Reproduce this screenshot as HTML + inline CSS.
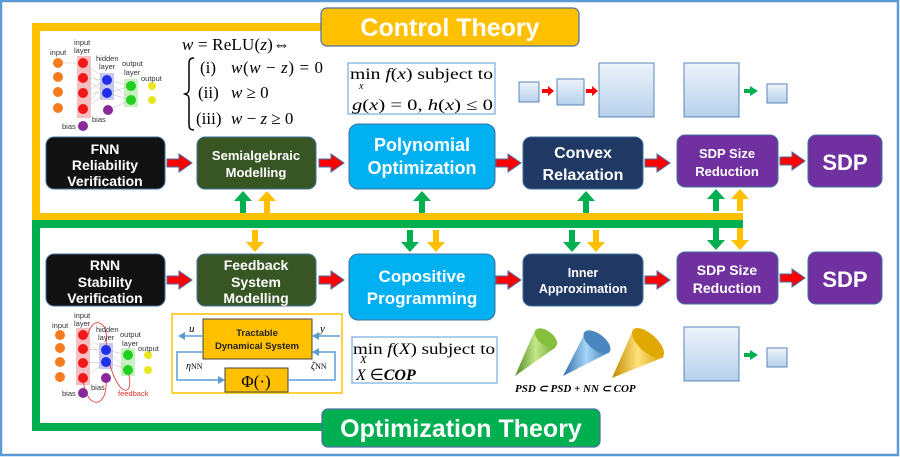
<!DOCTYPE html>
<html><head><meta charset="utf-8"><style>
html,body{margin:0;padding:0;background:#fff}
svg{display:block}
text{font-family:"Liberation Sans",sans-serif}
.s{font-family:"Liberation Serif",serif}
</style></head><body>
<svg width="900" height="457" viewBox="0 0 900 457" xmlns="http://www.w3.org/2000/svg">
<defs>
<linearGradient id="sq" x1="0" y1="0" x2="0" y2="1"><stop offset="0" stop-color="#eef4fb"/><stop offset="1" stop-color="#b6d0ea"/></linearGradient>
<linearGradient id="cg" x1="0" y1="0" x2="1" y2="0"><stop offset="0" stop-color="#4e8a1e"/><stop offset="0.5" stop-color="#c6e68a"/><stop offset="1" stop-color="#6ea632"/></linearGradient>
<linearGradient id="cb" x1="0" y1="0" x2="1" y2="0"><stop offset="0" stop-color="#2e6ea6"/><stop offset="0.5" stop-color="#a8d4f6"/><stop offset="1" stop-color="#3a7ab6"/></linearGradient>
<linearGradient id="cy" x1="0" y1="0" x2="1" y2="0"><stop offset="0" stop-color="#c28a00"/><stop offset="0.5" stop-color="#ffe27a"/><stop offset="1" stop-color="#d49a00"/></linearGradient>
<g id="ra"><path d="M0,-4 L12,-4 L12,-9 L25,0 L12,9 L12,4 L0,4 Z" fill="#f00" stroke="#4a6fa5" stroke-width="1"/></g>
<g id="ga"><path d="M-3,22 L-3,10 L-9,10 L0,0 L9,10 L3,10 L3,22 Z" fill="#00b050"/></g>
<g id="ya"><path d="M-3,22 L-3,10 L-9,10 L0,0 L9,10 L3,10 L3,22 Z" fill="#ffc000"/></g>
</defs>
<rect x="1" y="1" width="897" height="454" fill="#fff" stroke="#5b9bd5" stroke-width="2.5"/>

<path d="M36,216 L36,27 L322,27" fill="none" stroke="#ffc000" stroke-width="8"/>
<rect x="32" y="213" width="711" height="7" fill="#ffc000"/>
<path d="M36,220 L36,427 L324,427" fill="none" stroke="#00b050" stroke-width="8"/>
<rect x="32" y="220" width="711" height="8" fill="#00b050"/>

<rect x="321" y="8" width="258" height="38" rx="6" fill="#ffc000" stroke="#4a6fa5" stroke-width="1.2"/>
<text x="450" y="36" font-size="25" font-weight="bold" fill="#fff" text-anchor="middle">Control Theory</text>
<rect x="322" y="409" width="278" height="38" rx="6" fill="#00b050" stroke="#4a6fa5" stroke-width="1.2"/>
<text x="461" y="437" font-size="25" font-weight="bold" fill="#fff" text-anchor="middle">Optimization Theory</text>

<use href="#ga" x="243" y="191"/><use href="#ya" x="267" y="191"/>
<use href="#ga" x="422" y="191"/>
<use href="#ga" x="586" y="191"/>
<use href="#ga" x="716" y="189"/><use href="#ya" x="740" y="189"/>
<g transform="translate(255,252) scale(1,-1)"><use href="#ya"/></g>
<g transform="translate(410,252) scale(1,-1)"><use href="#ga"/></g>
<g transform="translate(436,252) scale(1,-1)"><use href="#ya"/></g>
<g transform="translate(572,252) scale(1,-1)"><use href="#ga"/></g>
<g transform="translate(596,252) scale(1,-1)"><use href="#ya"/></g>
<g transform="translate(716,250) scale(1,-1)"><use href="#ga"/></g>
<g transform="translate(740,250) scale(1,-1)"><use href="#ya"/></g>

<rect x="46" y="137" width="119" height="52" rx="8" fill="#111" stroke="#41719c"/>
<text x="105" y="154" font-size="14" font-weight="bold" fill="#fff" text-anchor="middle">FNN</text>
<text x="105" y="170" font-size="14" font-weight="bold" fill="#fff" text-anchor="middle">Reliability</text>
<text x="105" y="186" font-size="14" font-weight="bold" fill="#fff" text-anchor="middle">Verification</text>
<rect x="197" y="137" width="119" height="52" rx="8" fill="#375623" stroke="#41719c"/>
<text x="256" y="160" font-size="13" font-weight="bold" fill="#fff" text-anchor="middle">Semialgebraic</text>
<text x="256" y="177" font-size="13" font-weight="bold" fill="#fff" text-anchor="middle">Modelling</text>
<rect x="349" y="124" width="146" height="65" rx="9" fill="#00b0f0" stroke="#41719c"/>
<text x="422" y="151" font-size="18" font-weight="bold" fill="#fff" text-anchor="middle">Polynomial</text>
<text x="422" y="174" font-size="18" font-weight="bold" fill="#fff" text-anchor="middle">Optimization</text>
<rect x="523" y="137" width="120" height="52" rx="8" fill="#1f3864" stroke="#41719c"/>
<text x="583" y="158" font-size="16" font-weight="bold" fill="#fff" text-anchor="middle">Convex</text>
<text x="583" y="180" font-size="16" font-weight="bold" fill="#fff" text-anchor="middle">Relaxation</text>
<rect x="677" y="135" width="101" height="52" rx="8" fill="#7030a0" stroke="#41719c"/>
<text x="727" y="158" font-size="13" font-weight="bold" fill="#fff" text-anchor="middle">SDP Size</text>
<text x="727" y="176" font-size="13" font-weight="bold" fill="#fff" text-anchor="middle">Reduction</text>
<rect x="808" y="135" width="74" height="52" rx="8" fill="#7030a0" stroke="#41719c"/>
<text x="845" y="170" font-size="22" font-weight="bold" fill="#fff" text-anchor="middle">SDP</text>
<use href="#ra" x="167" y="163"/><use href="#ra" x="319" y="163"/><use href="#ra" x="496" y="163"/><use href="#ra" x="645" y="163"/><use href="#ra" x="780" y="161"/>

<rect x="46" y="254" width="119" height="52" rx="8" fill="#111" stroke="#41719c"/>
<text x="105" y="270" font-size="14" font-weight="bold" fill="#fff" text-anchor="middle">RNN</text>
<text x="105" y="287" font-size="14" font-weight="bold" fill="#fff" text-anchor="middle">Stability</text>
<text x="105" y="303" font-size="14" font-weight="bold" fill="#fff" text-anchor="middle">Verification</text>
<rect x="197" y="254" width="119" height="52" rx="8" fill="#375623" stroke="#41719c"/>
<text x="256" y="270" font-size="14" font-weight="bold" fill="#fff" text-anchor="middle">Feedback</text>
<text x="256" y="287" font-size="14" font-weight="bold" fill="#fff" text-anchor="middle">System</text>
<text x="256" y="303" font-size="14" font-weight="bold" fill="#fff" text-anchor="middle">Modelling</text>
<rect x="349" y="254" width="146" height="66" rx="9" fill="#00b0f0" stroke="#41719c"/>
<text x="422" y="282" font-size="17" font-weight="bold" fill="#fff" text-anchor="middle">Copositive</text>
<text x="422" y="304" font-size="17" font-weight="bold" fill="#fff" text-anchor="middle">Programming</text>
<rect x="523" y="254" width="120" height="52" rx="8" fill="#1f3864" stroke="#41719c"/>
<text x="583" y="277" font-size="12.5" font-weight="bold" fill="#fff" text-anchor="middle">Inner</text>
<text x="583" y="293" font-size="12.5" font-weight="bold" fill="#fff" text-anchor="middle">Approximation</text>
<rect x="677" y="252" width="101" height="52" rx="8" fill="#7030a0" stroke="#41719c"/>
<text x="727" y="275" font-size="14" font-weight="bold" fill="#fff" text-anchor="middle">SDP Size</text>
<text x="727" y="293" font-size="14" font-weight="bold" fill="#fff" text-anchor="middle">Reduction</text>
<rect x="808" y="252" width="74" height="52" rx="8" fill="#7030a0" stroke="#41719c"/>
<text x="845" y="287" font-size="22" font-weight="bold" fill="#fff" text-anchor="middle">SDP</text>
<use href="#ra" x="167" y="280"/><use href="#ra" x="319" y="280"/><use href="#ra" x="496" y="280"/><use href="#ra" x="645" y="280"/><use href="#ra" x="780" y="278"/>

<!-- ReLU formula -->
<text x="182" y="50" class="s" font-size="17" textLength="108"><tspan font-style="italic">w</tspan> = ReLU(<tspan font-style="italic">z</tspan>)⇔</text>
<path d="M194,58 C188,58 189,62 189,70 L189,88 C189,92 188,93 185,94 C188,95 189,96 189,100 L189,118 C189,126 188,130 194,130" fill="none" stroke="#000" stroke-width="1.5"/>
<text x="200" y="73" class="s" font-size="17">(i)</text>
<text x="231" y="73" class="s" font-size="17" textLength="92"><tspan font-style="italic">w</tspan>(<tspan font-style="italic">w</tspan> − <tspan font-style="italic">z</tspan>) = 0</text>
<text x="198" y="98" class="s" font-size="17">(ii)</text>
<text x="231" y="98" class="s" font-size="17"><tspan font-style="italic">w</tspan> ≥ 0</text>
<text x="196" y="124" class="s" font-size="17">(iii)</text>
<text x="231" y="124" class="s" font-size="17"><tspan font-style="italic">w</tspan> − <tspan font-style="italic">z</tspan> ≥ 0</text>

<rect x="348" y="63" width="147" height="51" fill="#fff" stroke="#5b9bd5" stroke-width="1"/>
<text x="350" y="79" class="s" font-size="16" textLength="143" lengthAdjust="spacingAndGlyphs">min <tspan font-style="italic">f</tspan>(<tspan font-style="italic">x</tspan>) subject to</text>
<text x="359" y="89" class="s" font-size="10" font-style="italic">x</text>
<text x="352" y="110" class="s" font-size="16" textLength="141" lengthAdjust="spacingAndGlyphs"><tspan font-style="italic">g</tspan>(<tspan font-style="italic">x</tspan>) = 0,  <tspan font-style="italic">h</tspan>(<tspan font-style="italic">x</tspan>) ≤ 0</text>
<rect x="352" y="337" width="145" height="46" fill="#fff" stroke="#5b9bd5" stroke-width="1"/>
<text x="353" y="354" class="s" font-size="16" textLength="142" lengthAdjust="spacingAndGlyphs">min <tspan font-style="italic">f</tspan>(<tspan font-style="italic">X</tspan>) subject to</text>
<text x="360" y="363" class="s" font-size="11" font-style="italic">X</text>
<text x="356" y="380" class="s" font-size="16"><tspan font-style="italic">X</tspan> ∈<tspan font-style="italic" font-weight="bold">COP</tspan></text>

<rect x="519" y="82" width="20" height="20" fill="url(#sq)" stroke="#5b86b8"/>
<path d="M542,89 L548,89 L548,86 L554,91 L548,96 L548,93 L542,93Z" fill="#f00"/>
<rect x="557" y="79" width="27" height="26" fill="url(#sq)" stroke="#5b86b8"/>
<path d="M586,89 L592,89 L592,86 L598,91 L592,96 L592,93 L586,93Z" fill="#f00"/>
<rect x="599" y="63" width="55" height="54" fill="url(#sq)" stroke="#5b86b8"/>
<rect x="684" y="63" width="55" height="54" fill="url(#sq)" stroke="#5b86b8"/>
<path d="M744,89 L750,89 L750,86 L758,91 L750,96 L750,93 L744,93Z" fill="#00b050"/>
<rect x="767" y="84" width="20" height="19" fill="url(#sq)" stroke="#5b86b8"/>
<rect x="684" y="327" width="55" height="54" fill="url(#sq)" stroke="#5b86b8"/>
<path d="M744,353 L750,353 L750,350 L758,355 L750,360 L750,357 L744,357Z" fill="#00b050"/>
<rect x="767" y="348" width="20" height="19" fill="url(#sq)" stroke="#5b86b8"/>

<path d="M515,376 L535,330 L556,347 Z" fill="url(#cg)"/><ellipse cx="546" cy="338" rx="13" ry="7" transform="rotate(38 546 338)" fill="#86bf3e"/>
<path d="M563,376 L585,333 L610,352 Z" fill="url(#cb)"/><ellipse cx="597" cy="342" rx="16" ry="8" transform="rotate(38 597 342)" fill="#4a86c0"/>
<path d="M612,378 L633,330 L664,357 Z" fill="url(#cy)"/><ellipse cx="648" cy="343" rx="20" ry="9" transform="rotate(42 648 343)" fill="#e0a800"/>
<text x="515" y="392" class="s" font-size="11" font-style="italic" font-weight="bold">PSD ⊂ PSD + NN ⊂ COP</text>

<rect x="172" y="314" width="170" height="79" fill="#fff" stroke="#ffc000" stroke-width="1.5"/>
<rect x="203" y="319" width="109" height="40" fill="#ffc000" stroke="#444" stroke-width="1"/>
<text x="257" y="336" font-size="9.5" font-weight="bold" text-anchor="middle" fill="#222">Tractable</text>
<text x="257" y="349" font-size="9.5" font-weight="bold" text-anchor="middle" fill="#222">Dynamical System</text>
<rect x="225" y="368" width="63" height="24" fill="#ffc000" stroke="#444" stroke-width="1"/>
<text x="256" y="387" class="s" font-size="17" text-anchor="middle">Φ(·)</text>
<g stroke="#5b9bd5" stroke-width="1.5" fill="none">
<path d="M203,336 L182,336"/><path d="M340,336 L316,336"/>
<path d="M203,352 L177,352 L177,380 L220,380"/><path d="M288,380 L335,380 L335,352 L316,352"/>
</g>
<g fill="#5b9bd5"><path d="M178,336 L185,332 L185,340Z"/><path d="M312,336 L319,332 L319,340Z"/><path d="M225,380 L218,376 L218,384Z"/><path d="M312,352 L319,348 L319,356Z"/></g>
<text x="189" y="332" class="s" font-size="11" font-style="italic">u</text>
<text x="320" y="332" class="s" font-size="11" font-style="italic">y</text>
<text x="186" y="369" class="s" font-size="10" font-style="italic">η<tspan font-style="normal" font-size="8">NN</tspan></text>
<text x="311" y="369" class="s" font-size="10" font-style="italic">ζ<tspan font-style="normal" font-size="8">NN</tspan></text>

<g font-size="7.5" fill="#333">
<rect x="77" y="56" width="14" height="62" fill="#f7c0c0"/>
<rect x="100" y="73" width="14" height="27" fill="#c8c8f0"/>
<rect x="124" y="79" width="14" height="28" fill="#c8f0c0"/>
<g stroke="#bbb" stroke-width="0.5">
<path d="M83,63 L107,80 M83,78 L107,80 M83,93 L107,80 M83,109 L107,80 M83,63 L107,93 M83,78 L107,93 M83,93 L107,93 M83,109 L107,93 M107,80 L131,86 M107,93 L131,86 M107,80 L131,100 M107,93 L131,100 M108,110 L131,100 M58,63 L83,63"/>
</g>
<g fill="#f47c20"><circle cx="58" cy="63" r="5"/><circle cx="58" cy="77" r="5"/><circle cx="58" cy="92" r="5"/><circle cx="58" cy="108" r="5"/></g>
<g fill="#f01818"><circle cx="83" cy="63" r="5"/><circle cx="83" cy="78" r="5"/><circle cx="83" cy="93" r="5"/><circle cx="83" cy="109" r="5"/></g>
<g fill="#2030e8"><circle cx="107" cy="80" r="5"/><circle cx="107" cy="93" r="5"/></g>
<g fill="#8a2a9a"><circle cx="108" cy="110" r="5"/><circle cx="83" cy="126" r="5"/></g>
<g fill="#20d020"><circle cx="131" cy="86" r="5"/><circle cx="131" cy="100" r="5"/></g>
<g fill="#e8e820"><circle cx="152" cy="86" r="4"/><circle cx="152" cy="100" r="4"/></g>
<text x="50" y="55">input</text><text x="74" y="45">input</text><text x="74" y="53">layer</text>
<text x="96" y="61">hidden</text><text x="99" y="69">layer</text><text x="122" y="66">output</text><text x="124" y="75">layer</text><text x="141" y="81">output</text>
<text x="62" y="129">bias</text><text x="92" y="122">bias</text>
</g>
<g font-size="7.5" fill="#333">
<rect x="76" y="328" width="14" height="57" fill="#f7c0c0"/>
<rect x="99" y="343" width="14" height="26" fill="#c8c8f0"/>
<rect x="121" y="348" width="14" height="28" fill="#c8f0c0"/>
<g stroke="#bbb" stroke-width="0.5"><path d="M83,335 L106,350 M83,349 L106,350 M83,363 L106,362 M83,378 L106,362 M83,335 L106,362 M106,350 L128,355 M106,362 L128,370 M106,350 L128,370"/></g>
<g fill="none" stroke="#e03030" stroke-width="0.8"><path d="M88,335 C92,315 110,320 106,345"/><path d="M83,378 C85,410 108,410 106,380"/><path d="M110,365 C120,400 135,395 128,372"/></g>
<g fill="#f47c20"><circle cx="60" cy="335" r="5"/><circle cx="60" cy="348" r="5"/><circle cx="60" cy="362" r="5"/><circle cx="60" cy="377" r="5"/></g>
<g fill="#f01818"><circle cx="83" cy="335" r="5"/><circle cx="83" cy="349" r="5"/><circle cx="83" cy="363" r="5"/><circle cx="83" cy="378" r="5"/></g>
<g fill="#2030e8"><circle cx="106" cy="350" r="5"/><circle cx="106" cy="362" r="5"/></g>
<g fill="#8a2a9a"><circle cx="106" cy="378" r="5"/><circle cx="83" cy="393" r="5"/></g>
<g fill="#20d020"><circle cx="128" cy="355" r="5"/><circle cx="128" cy="370" r="5"/></g>
<g fill="#e8e820"><circle cx="148" cy="355" r="4"/><circle cx="148" cy="370" r="4"/></g>
<text x="52" y="328">input</text><text x="74" y="318">input</text><text x="74" y="326">layer</text>
<text x="96" y="332">hidden</text><text x="98" y="340">layer</text><text x="120" y="337">output</text><text x="122" y="346">layer</text><text x="138" y="351">output</text>
<text x="62" y="396">bias</text><text x="91" y="390">bias</text>
<text x="118" y="396" fill="#e03030">feedback</text>
</g>
</svg>
</body></html>
